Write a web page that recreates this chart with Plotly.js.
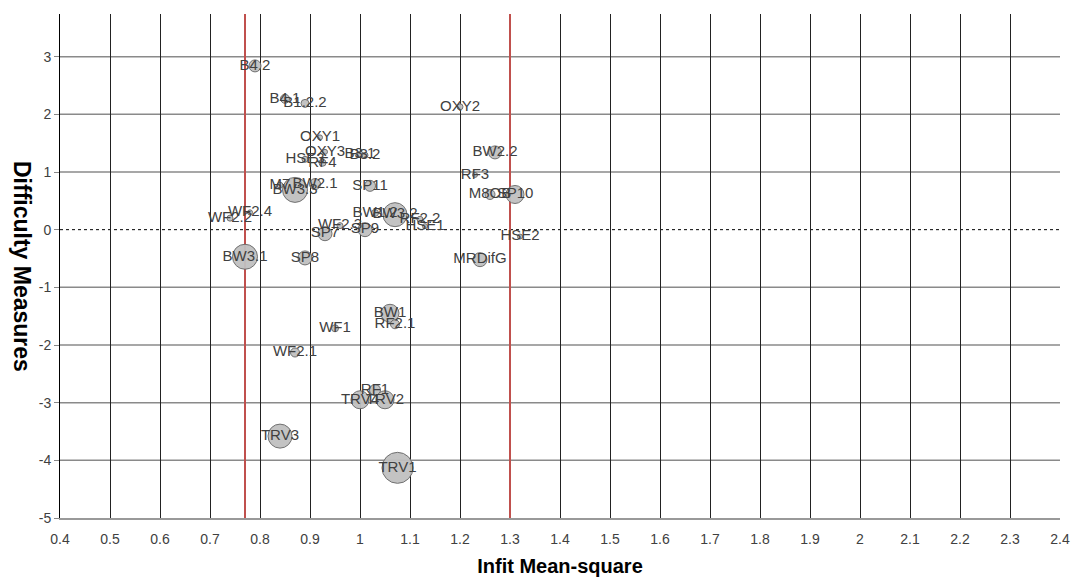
<!DOCTYPE html>
<html>
<head>
<meta charset="utf-8">
<script src="https://cdn.plot.ly/plotly-3.0.1.min.js"></script>
<style>
html,body{margin:0;padding:0;background:#fff;}
#chart{width:1074px;height:581px;}
</style>
</head>
<body>
<div id="chart"></div>
<script>
// Item labels
const labels = ["B4.2","B4.1","B1.2.2","OXY2","OXY1","OXY3","HSE3","RF4","B3.1","B3.2",
  "BW2.2","RF3","M8OB","SP10","SP11","M7","BW3.3","BW2.1","WF2.4","WF2.2",
  "BW1.2","BW3.2","RF2.2","HSE1","HSE2","MRDifG","WF2.3","SP9","SP7","BW3.1",
  "SP8","BW1","RF2.1","WF1","WF2.1","RF1","TRV4","TRV2","TRV3","TRV1"];
// Infit mean-square (x)
const infit = [0.79,0.85,0.89,1.20,0.92,0.93,0.89,0.925,1.00,1.01,
  1.27,1.23,1.26,1.31,1.02,0.84,0.87,0.91,0.78,0.74,
  1.03,1.07,1.12,1.13,1.32,1.24,0.96,1.01,0.93,0.77,
  0.89,1.06,1.07,0.95,0.87,1.03,1.00,1.05,0.84,1.075];
// Difficulty measures (y)
const measures = [2.84,2.27,2.19,2.13,1.60,1.35,1.22,1.16,1.31,1.29,
  1.34,0.95,0.61,0.61,0.76,0.77,0.69,0.79,0.30,0.20,
  0.29,0.26,0.18,0.06,-0.12,-0.52,0.07,0.00,-0.07,-0.47,
  -0.49,-1.45,-1.64,-1.71,-2.13,-2.78,-2.95,-2.95,-3.58,-4.13];
// Bubble size (weight)
const bubble = [12,9,8,6,5,5,6,7,6,6,
  13,5,10,18,11,6,25,11,5,6,
  7,24,6,5,5,14,6,14,14,25,
  14,18,9,7,9,11,18,18,24,31];
// Fit criteria lines
const refLines = [0.77, 1.3];
// Axis ranges
const xRange = [0.4, 2.4];
const yRange = [-5, 3.74];
// Y tick values and labels
const yTicks = [-5,-4,-3,-2,-1,0,1,2,3];
const yTickText = ["-5","-4","-3","-2","-1","0","1","2","3"];

const shapes = [];
yTicks.forEach(v => {
  if (v === -5) return;
  shapes.push({type:'line', xref:'paper', x0:0, x1:1, yref:'y', y0:v, y1:v, layer:'below',
    line: v === 0 ? {color:'#000', width:1, dash:'dot'} : {color:'#8a8a8a', width:1.5}});
});

const refTraces = refLines.map(v => ({
  type:'scatter', mode:'lines', x:[v, v], y:yRange,
  line:{color:'#c0504d', width:2}, hoverinfo:'skip', cliponaxis:true
}));

const trace = {
  type:'scatter', mode:'markers+text',
  x: infit, y: measures, text: labels,
  textposition:'middle center',
  textfont:{family:'Liberation Sans, Arial, sans-serif', size:15, color:'#404040'},
  marker:{size: bubble, color:'#c0c0c0', opacity:0.95, line:{color:'#6a6a6a', width:1}},
  hoverinfo:'text+x+y', cliponaxis:false
};

const layout = {
  width:1074, height:581,
  margin:{l:60, r:14, t:14, b:63},
  paper_bgcolor:'#fff', plot_bgcolor:'#fff',
  showlegend:false,
  font:{family:'Liberation Sans, Arial, sans-serif', color:'#404040', size:14},
  xaxis:{
    range:xRange, dtick:0.1, tick0:0.4,
    showgrid:true, gridcolor:'#222', gridwidth:1,
    zeroline:false, showline:true, linecolor:'#999', linewidth:1.5,
    ticks:'', ticklabelstandoff:8,
    tickfont:{size:14, color:'#404040'},
    title:{text:'Infit Mean-square', font:{size:20, color:'#000', family:'Liberation Sans, Arial, sans-serif', weight:'bold'}, standoff:12}
  },
  yaxis:{
    range:yRange, tickvals: yTicks, ticktext: yTickText,
    showgrid:false, zeroline:false,
    showline:true, linecolor:'#000', linewidth:1,
    ticks:'outside', ticklen:5, tickcolor:'#888',
    tickfont:{size:14, color:'#404040'}
  },
  shapes: shapes,
  annotations:[{
    text:'<b>Difficulty Measures</b>', xref:'paper', yref:'paper',
    x:-0.038, y:0.5, xanchor:'center', yanchor:'middle', textangle:90, showarrow:false,
    font:{size:23, color:'#000', family:'Liberation Sans, Arial, sans-serif'}
  }]
};

Plotly.newPlot('chart', refTraces.concat([trace]), layout, {displayModeBar:false, staticPlot:true});
</script>
</body>
</html>
